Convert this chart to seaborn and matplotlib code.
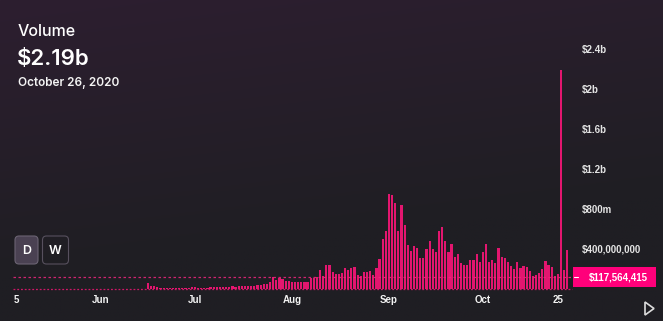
import numpy as np
import pandas as pd
import matplotlib
matplotlib.use("Agg")
import matplotlib.pyplot as plt
import seaborn as sns
from matplotlib.patches import FancyBboxPatch, Rectangle, Polygon

# ---------------- data ----------------
start_date = "2020-06-16"
volume_millions = [
    # Jun 16 - Jun 30
    57, 35, 30, 18, 15, 14, 13, 12, 14, 13, 12, 14, 13, 12, 16,
    # Jul
    18, 14, 13, 12, 14, 18, 17, 16, 20, 22, 19, 24, 26, 22, 28, 30,
    26, 33, 35, 32, 38, 45, 50, 55, 75, 120, 90, 110, 100, 85, 80,
    # Aug
    75, 68, 72, 70, 67, 73, 110, 110, 120, 193, 133, 243, 243, 170, 153,
    153, 160, 210, 193, 207, 220, 140, 127, 167, 167, 183, 143, 210, 303, 503, 583,
    # Sep
    950, 937, 860, 583, 837, 637, 443, 380, 433, 407, 310, 310, 403, 477, 403,
    367, 583, 620, 477, 373, 453, 317, 353, 263, 240, 237, 293, 287, 353, 267,
    # Oct 1 - Oct 28
    367, 450, 267, 293, 260, 413, 320, 310, 270, 227, 197, 267, 213, 227,
    223, 183, 133, 143, 157, 203, 277, 237, 217, 127, 150, 2190, 193, 387,
]
tick_dates = ["2020-05-05", "2020-06-01", "2020-07-01", "2020-08-01",
              "2020-09-01", "2020-10-01", "2020-10-25"]
tick_labels = ["5", "Jun", "Jul", "Aug", "Sep", "Oct", "25"]
ytick_values = [400e6, 800e6, 1.2e9, 1.6e9, 2.0e9, 2.4e9]
ytick_labels = ["$400,000,000", "$800m", "$1.2b", "$1.6b", "$2b", "$2.4b"]
current_value = 117564415
current_label = "$117,564,415"
header_title = "Volume"
header_value = "$2.19b"
header_date = "October 26, 2020"
button_labels = ["D", "W"]

# ---------------- prep ----------------
ref = pd.Timestamp("2020-06-01")
dates = pd.date_range(start_date, periods=len(volume_millions), freq="D")
df = pd.DataFrame({"day": (dates - ref).days,
                   "volume": np.array(volume_millions, dtype=float) * 1e6})
tick_days = [(pd.Timestamp(d) - ref).days for d in tick_dates]

sns.set_theme(style="dark")
plt.rcParams["font.family"] = ["Liberation Sans", "DejaVu Sans"]

W, H = 663, 321
fig = plt.figure(figsize=(W / 100, H / 100), dpi=100)
fig.patch.set_facecolor("#221f26")

# background gradient
bg = fig.add_axes([0, 0, 1, 1], zorder=0)
yy = np.linspace(0, 1, 200)[:, None]
xx = np.linspace(0, 1, 400)[None, :]
top = np.array([45, 31, 48]) / 255
bot = np.array([31, 30, 35]) / 255
t = np.clip(yy * 1.15 + xx * 0.3, 0, 1)
img = top[None, None, :] * (1 - t[..., None]) + bot[None, None, :] * t[..., None]
bg.imshow(img, aspect="auto", extent=[0, 1, 0, 1], origin="upper")
bg.axis("off")

# main axes (pixel geometry)
left_px, right_px, base_px, top_px = 13, 572, 289, 49
ax = fig.add_axes([left_px / W, (H - base_px) / H,
                   (right_px - left_px) / W, (base_px - top_px) / H], zorder=2)
ax.set_facecolor("none")

bar_color = "#e3166f"
sns.barplot(data=df, x="day", y="volume", native_scale=True, color=bar_color,
            saturation=1, width=0.7, errorbar=None, ax=ax, linewidth=0, zorder=2)

px_per_day, day0_px = 3.13, 101
ax.set_xlim((left_px - day0_px) / px_per_day, (right_px - day0_px) / px_per_day)
ax.set_ylim(0, 2.4e9)

ax.set_xticks(tick_days)
ax.set_xticklabels(tick_labels)
ax.yaxis.tick_right()
ax.set_yticks(ytick_values)
ax.set_yticklabels(ytick_labels)
ax.tick_params(axis="x", length=0, pad=4, labelsize=7, labelcolor="#f2f2f2")
ax.tick_params(axis="y", length=0, pad=7.2, labelsize=7, labelcolor="#e4e4e4")
for lab in ax.get_xticklabels() + ax.get_yticklabels():
    lab.set_fontweight("bold")
for lab in ax.get_yticklabels():
    lab.set_horizontalalignment("left")
ax.set_xlabel("")
ax.set_ylabel("")
ax.grid(False)
for s in ax.spines.values():
    s.set_visible(False)

# reference lines
ax.axhline(current_value, color="#f0277f", lw=0.9, ls=(0, (2, 2)),
           alpha=0.85, zorder=3)
ax.axhline(0, color="#e3166f", lw=0.9, ls=(0, (1.5, 1.5)), alpha=0.9,
           clip_on=False, zorder=1)

# value box on right axis
ytr = ax.get_yaxis_transform()
ax_w = right_px - left_px
data_per_px = 2.4e9 / (base_px - top_px)
bx0 = (573 - left_px) / ax_w
bx1 = (656 - left_px) / ax_w
ax.add_patch(Rectangle((bx0, current_value - 10 * data_per_px), bx1 - bx0,
                       20 * data_per_px, transform=ytr, clip_on=False,
                       facecolor="#ff007a", edgecolor="none", zorder=4))
ax.plot([(574 - left_px) / ax_w, (578 - left_px) / ax_w],
        [current_value, current_value], transform=ytr, color="white",
        lw=0.8, clip_on=False, zorder=5)
ax.text((618 - left_px) / ax_w, current_value, current_label, transform=ytr,
        ha="center", va="center", fontsize=7, fontweight="bold",
        color="white", zorder=5, clip_on=False)

# overlay in pixel coordinates
ov = fig.add_axes([0, 0, 1, 1], zorder=3)
ov.set_xlim(0, W)
ov.set_ylim(H, 0)
ov.axis("off")
ov.patch.set_alpha(0)

hfam = ["Inter", "DejaVu Sans"]
ov.text(18, 36, header_title, fontsize=11.5, family=hfam, fontweight="medium",
        color="white", va="baseline")
ov.text(17, 65, header_value, fontsize=16, family=hfam, fontweight="semibold",
        color="white", va="baseline")
ov.text(18, 86, header_date, fontsize=8.5, family=hfam, fontweight="semibold",
        color="#f4f4f4", va="baseline")

ov.add_patch(FancyBboxPatch((15, 236), 23, 28,
                            boxstyle="round,pad=0,rounding_size=4",
                            facecolor="#4a4152", edgecolor="#6b6373", lw=0.8))
ov.add_patch(FancyBboxPatch((42.5, 236), 26, 28,
                            boxstyle="round,pad=0,rounding_size=4",
                            facecolor="none", edgecolor="#57505e", lw=0.8))
ov.text(26.5, 250.5, button_labels[0], ha="center", va="center", fontsize=9,
        family=hfam, fontweight="semibold", color="white")
ov.text(55.5, 250.5, button_labels[1], ha="center", va="center", fontsize=9,
        family=hfam, fontweight="semibold", color="white")

ov.add_patch(Polygon([(645, 302), (645, 315), (654, 308.5)], closed=True,
                     fill=False, edgecolor="#dcdcdc", lw=1.2))

fig.savefig("out.png", dpi=100, facecolor=fig.get_facecolor())
